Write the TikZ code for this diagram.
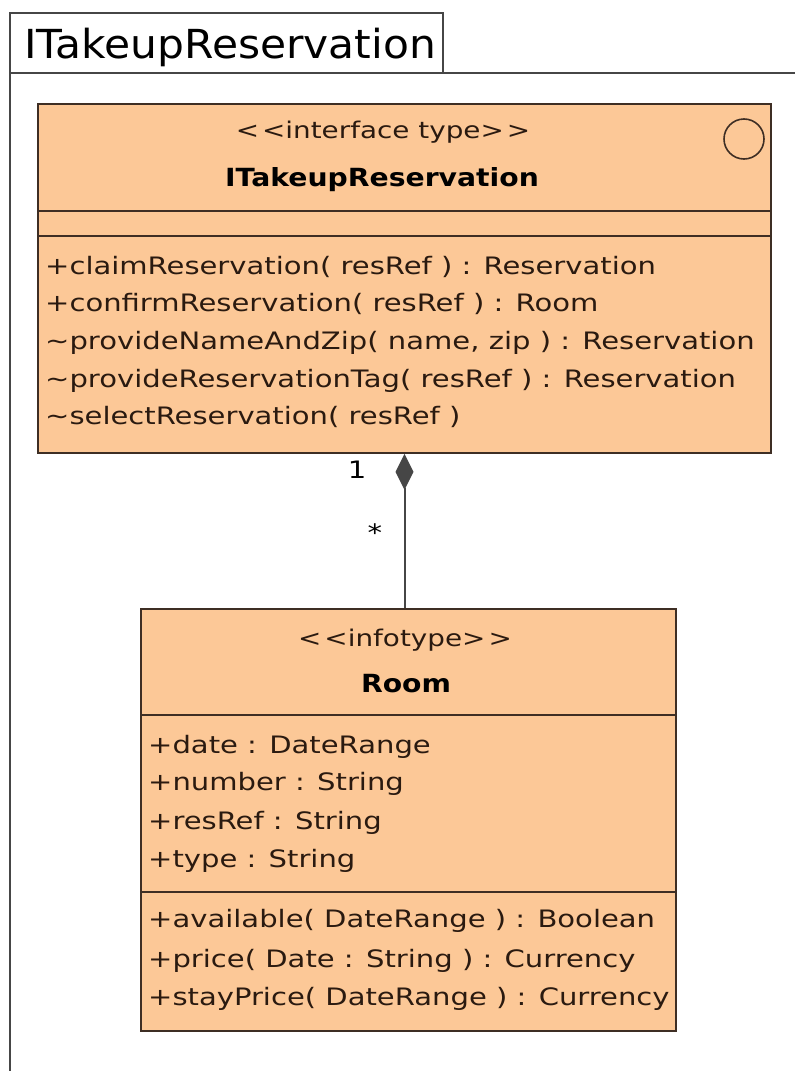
\documentclass[tikz,border=0pt]{standalone}
\usepackage{fontspec}
\setmainfont{DejaVu Sans}
\newfontfamily\umlfont[FakeStretch=1.21,BoldFeatures={FakeStretch=1.13}]{DejaVu Sans}
\newfontfamily\pkgfont[FakeStretch=1.06]{DejaVu Sans}
\usetikzlibrary{arrows.meta,calc,positioning}
\definecolor{classfill}{RGB}{252,200,151}
\definecolor{classline}{RGB}{62,46,36}
\definecolor{classtext}{RGB}{42,26,16}
\definecolor{frameline}{RGB}{70,70,70}
\tikzset{
  umlbox/.style={draw=classline,fill=classfill,line width=1.6pt,inner sep=0pt},
  divider/.style={draw=classline,line width=1.6pt},
  member/.style={anchor=base west,inner sep=0pt,text=classtext,
                 font=\umlfont\fontsize{24}{24}\selectfont},
  stereo/.style={anchor=base,inner sep=0pt,text=classtext,
                 font=\umlfont\fontsize{23}{23}\selectfont},
  clname/.style={anchor=base,inner sep=0pt,text=black,
                 font=\umlfont\fontsize{25}{25}\selectfont\bfseries},
  pkgframe/.style={draw=frameline,line width=1.2pt},
  mult/.style={inner sep=0pt,text=black,font=\umlfont\fontsize{24}{24}\selectfont},
  comp/.style={draw=frameline,line width=2pt,
               {Diamond[length=36pt,width=18pt,fill=frameline]}-},
}
\begin{document}
\begin{tikzpicture}[x=1pt,y=-1pt]
  \useasboundingbox [fill=white] (0,0) rectangle (795,1071) ;
%
  % package frame
  \draw [pkgframe] (10,1071) -- (10,13) -- (443,13) -- (443,73) ;
  \draw [pkgframe] (10,73) -- (795,73) ;
  \node [anchor=base west,inner sep=0pt,font=\pkgfont\fontsize{40}{40}\selectfont]
        (pkgname) at (24,58) {ITakeupReservation} ;
%
  % interface type
  \node [umlbox,minimum width=733pt,minimum height=349pt] (itr) at (404.5,278.5) {} ;
  \draw [divider] ($(itr.north west)+(0,108)$) -- ($(itr.north east)+(0,108)$) ;
  \draw [divider] ($(itr.north west)+(0,133)$) -- ($(itr.north east)+(0,133)$) ;
  \draw [classline,line width=1.6pt] (744,139) circle [radius=20pt] ;
  \node [stereo] (itrst) at (383,138) {<\kern3pt<interface type>\kern3pt>} ;
  \node [clname] (itrname) at (382,186) {ITakeupReservation} ;
  \node [member] (itrop1) at (45,274) {+claimReservation( resRef ) : Reservation} ;
  \node [member] (itrop2) at (45,311) {+confirmReservation( resRef ) : Room} ;
  \node [member] (itrop3) at (45,349) {\textasciitilde provideNameAndZip( name, zip ) : Reservation} ;
  \node [member] (itrop4) at (45,387) {\textasciitilde provideReservationTag( resRef ) : Reservation} ;
  \node [member] (itrop5) at (45,424) {\textasciitilde selectReservation( resRef )} ;
%
  % infotype
  \node [umlbox,minimum width=535pt,minimum height=422pt] (room) at (408.5,820) {} ;
  \draw [divider] ($(room.north west)+(0,107)$) -- ($(room.north east)+(0,107)$) ;
  \draw [divider] ($(room.north west)+(0,284)$) -- ($(room.north east)+(0,284)$) ;
  \node [stereo] (roomst) at (405,646) {<\kern3pt<infotype>\kern3pt>} ;
  \node [clname] (roomname) at (406,692) {Room} ;
  \node [member] (roomat1) at (148,753) {+date : DateRange} ;
  \node [member] (roomat2) at (148,790) {+number : String} ;
  \node [member] (roomat3) at (148,829) {+resRef : String} ;
  \node [member] (roomat4) at (148,867) {+type : String} ;
  \node [member] (roomop1) at (148,927) {+available( DateRange ) : Boolean} ;
  \node [member] (roomop2) at (148,967) {+price( Date : String ) : Currency} ;
  \node [member] (roomop3) at (148,1005) {+stayPrice( DateRange ) : Currency} ;
%
  % composition
  \draw [comp] (itr.south) -- (itr.south |- room.north) ;
  \node [mult] (multone) at (357,470) {1} ;
  \node [mult] (multmany) at (375,533) {*} ;
\end{tikzpicture}
\end{document}
